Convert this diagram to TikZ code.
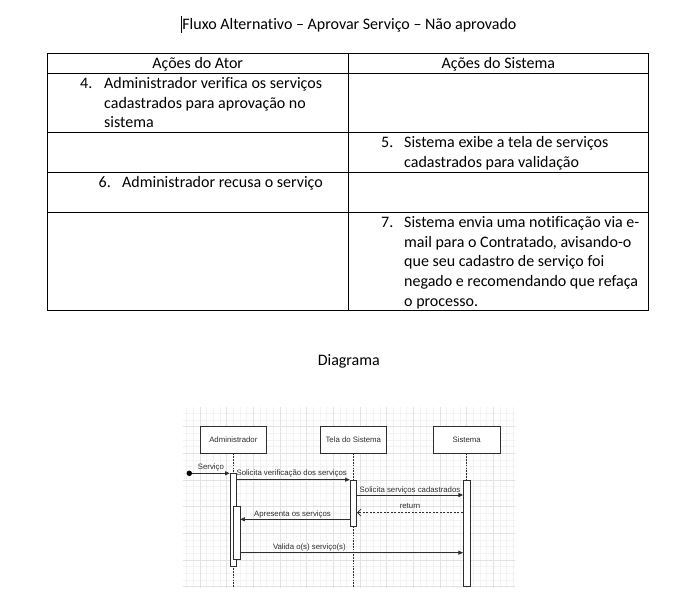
\documentclass[tikz,border=0pt]{standalone}
\usepackage{fontspec}
\setmainfont{Carlito}[Ligatures=CommonOff]
\newfontfamily\diofont{Liberation Sans}
\usetikzlibrary{arrows.meta}
\definecolor{minorgrid}{HTML}{F2F2F2}
\definecolor{majorgrid}{HTML}{E2E2E2}
\definecolor{ink}{HTML}{2E2E2E}
\begin{document}
\begin{tikzpicture}[x=1pt,y=-1pt,
  doc/.style={font=\fontsize{16}{19.6}\selectfont, inner sep=0pt, text=black},
  tbl/.style={line width=0.9pt, black},
  lbox/.style={draw=ink, fill=white, line width=0.7pt, minimum width=66.67pt, minimum height=26.67pt, inner sep=0pt, font=\diofont\fontsize{7.8}{9}\selectfont, text=ink},
  act/.style={draw=ink, fill=white, line width=0.7pt, minimum width=6.67pt, inner sep=0pt},
  life/.style={draw=ink, line width=0.7pt, dash pattern=on 1.6pt off 1.2pt},
  msg/.style={draw=ink, line width=0.7pt, -{Triangle[length=4.5pt,width=4pt]}},
  ret/.style={draw=ink, line width=0.7pt, dash pattern=on 2pt off 1.5pt, -{Straight Barb[length=3.5pt,width=7pt]}},
  lbl/.style={font=\diofont\fontsize{7.8}{9}\selectfont, text=ink, inner sep=0pt, anchor=base}
]
\useasboundingbox[fill=white] (0,0) rectangle (683,614);

% title
\node[doc, anchor=base] (title) at (349.4,29.5) {Fluxo Alternativo – Aprovar Serviço – Não aprovado};
\draw[line width=0.8pt] ([xshift=-0.6pt,yshift=-3.5pt]title.base west) -- ([xshift=-0.6pt,yshift=14pt]title.base west);

% table
\draw[tbl] (47,53.3) rectangle (648.3,310);
\draw[tbl] (348.3,53.3) -- (348.3,310);
\foreach \yy in {73.3,132.3,172.3,212.3} \draw[tbl] (47,\yy) -- (648.3,\yy);

\node[doc, anchor=base] (h1) at (197.7,68.7) {Ações do Ator};
\node[doc, anchor=base] (h2) at (498.3,68.7) {Ações do Sistema};

\node[doc, anchor=base west] (n4) at (80,88.7) {4.};
\node[doc, anchor=base west] (r1a) at (104,88.7) {Administrador verifica os serviços};
\node[doc, anchor=base west] (r1b) at (104,108.3) {cadastrados para aprovação no};
\node[doc, anchor=base west] (r1c) at (104,127.9) {sistema};

\node[doc, anchor=base west] (n5) at (381,147.7) {5.};
\node[doc, anchor=base west] (r2a) at (404,147.7) {Sistema exibe a tela de serviços};
\node[doc, anchor=base west] (r2b) at (404,167.3) {cadastrados para validação};

\node[doc, anchor=base west] (n6) at (98.5,187.7) {6.};
\node[doc, anchor=base west] (r3a) at (122,187.7) {Administrador recusa o serviço};

\node[doc, anchor=base west] (n7) at (381,227.7) {7.};
\node[doc, anchor=base west] (r4a) at (404,227.7) {Sistema envia uma notificação via e-};
\node[doc, anchor=base west] (r4b) at (404,247.3) {mail para o Contratado, avisando-o};
\node[doc, anchor=base west] (r4c) at (404,266.9) {que seu cadastro de serviço foi};
\node[doc, anchor=base west] (r4d) at (404,286.5) {negado e recomendando que refaça};
\node[doc, anchor=base west] (r4e) at (404,306.1) {o processo.};

% heading
\node[doc, anchor=base] (diag) at (348.8,365) {Diagrama};

% grid background
\begin{scope}
  \clip (183,407) rectangle (515,587);
  \fill[white] (183,407) rectangle (515,587);
  \foreach \i in {0,...,54} {
    \draw[minorgrid, line width=0.5pt] (173.333+\i*6.6667,400) -- ++(0,200);
  }
  \foreach \i in {0,...,30} {
    \draw[minorgrid, line width=0.5pt] (170,400+\i*6.6667) -- ++(360,0);
  }
  \foreach \i in {0,...,13} {
    \draw[majorgrid, line width=0.5pt] (173.333+\i*26.6667,400) -- ++(0,200);
  }
  \foreach \i in {0,...,7} {
    \draw[majorgrid, line width=0.5pt] (170,400+\i*26.6667) -- ++(360,0);
  }
\end{scope}

% lifeline heads
\node[lbox] (adm) at (233.33,440) {Administrador};
\node[lbox] (tela) at (353.33,440) {Tela do Sistema};
\node[lbox] (sis) at (466.67,440) {Sistema};

\coordinate (bottom) at (0,587);
\draw[life] (adm.south) -- (adm.south |- bottom);
\draw[life] (tela.south) -- (tela.south |- bottom);
\draw[life] (sis.south) -- (sis.south |- bottom);

% activations
\node[act, minimum height=92.7pt] (a1) at (233.33,519.65) {};
\node[act, minimum height=52.67pt] (a2) at (236.67,533) {};
\node[act, minimum height=46.67pt] (t1) at (353.33,503.33) {};
\node[act, minimum height=106pt] (s1) at (466.67,533) {};

% messages
\node[circle, fill=black, minimum size=5.5pt, inner sep=0pt] (start) at (189.3,473.3) {};
\draw[msg] (start) -- (start -| a1.west) node[lbl, midway, yshift=3.8pt] {Serviço};

\draw[msg] (t1.north west -| a1.east) -- (t1.north west)
  node[lbl, pos=0.486, yshift=4.5pt] {Solicita verificação dos serviços};

\coordinate (y2) at (0,495);
\draw[msg] (t1.east |- y2) -- (s1.west |- y2)
  node[lbl, midway, yshift=3pt] {Solicita serviços cadastrados};

\coordinate (y3) at (0,512.7);
\draw[ret] (s1.west |- y3) -- (t1.east |- y3)
  node[lbl, midway, yshift=4.2pt] {return};

\coordinate (y4) at (0,519.3);
\draw[msg] (t1.west |- y4) -- (a2.east |- y4)
  node[lbl, pos=0.523, yshift=3.3pt] {Apresenta os serviços};

\coordinate (y5) at (0,552.7);
\draw[msg] (a2.east |- y5) -- (s1.west |- y5)
  node[lbl, pos=0.31, yshift=3.7pt] {Valida o(s) serviço(s)};
\end{tikzpicture}
\end{document}
